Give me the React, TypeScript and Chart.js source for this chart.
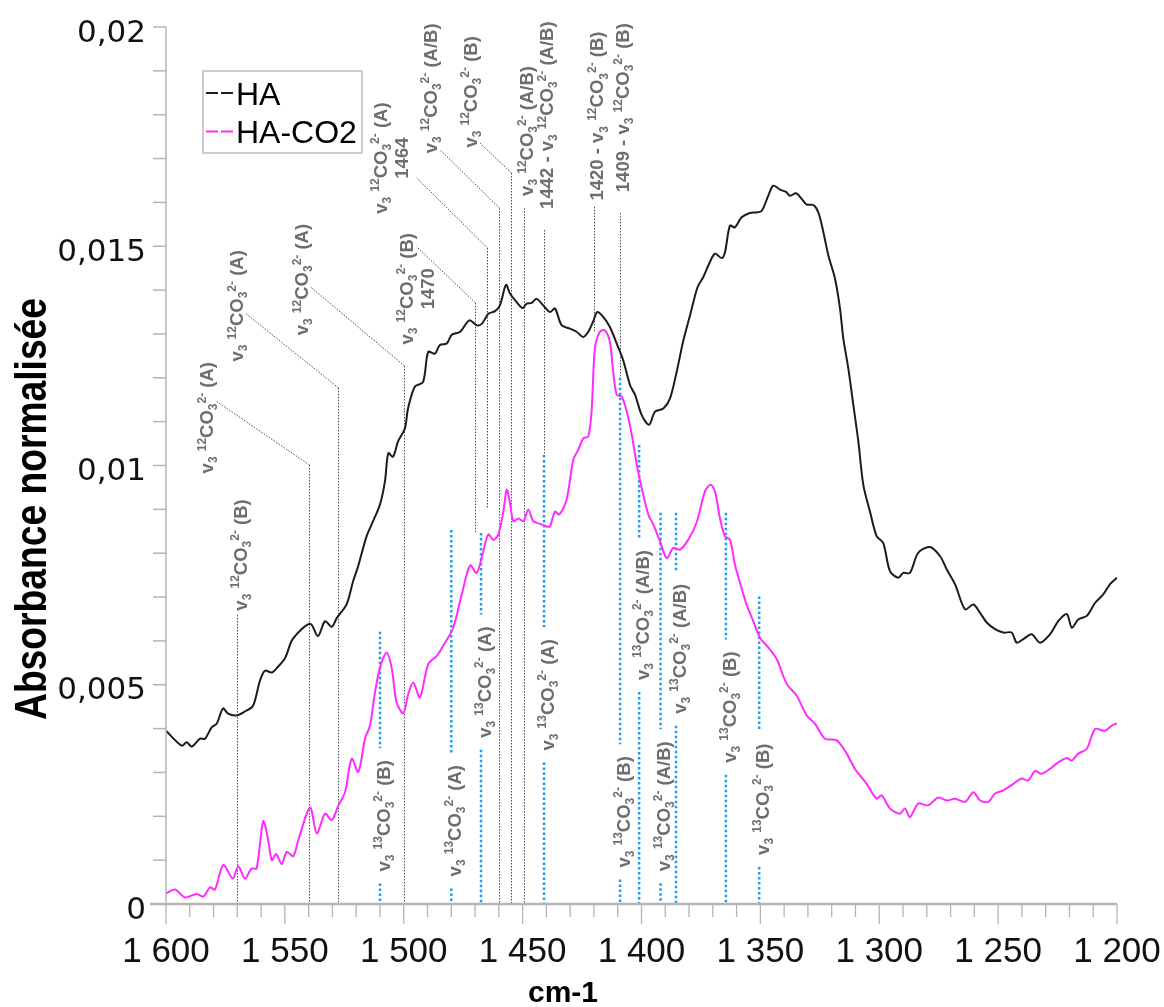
import { useEffect, useRef } from 'react';
import { Chart, registerables } from 'chart.js';

Chart.register(...registerables);

// ---------- DATA ----------
const seriesNames = ['HA', 'HA-CO2'];

const haWn = [1600, 1593.4, 1591.3, 1589.2, 1585.7, 1583.6, 1580.8, 1578.7, 1576.0, 1573.9, 1570.3, 1566.8, 1563.4, 1560.5, 1558.4, 1555.5, 1552.9, 1549.9, 1546.6, 1539.4, 1536.1, 1533.1, 1530.3, 1528.2, 1524.0, 1521.3, 1519.2, 1515.6, 1512.9, 1510.0, 1507.9, 1506.5, 1504.5, 1502.4, 1499.5, 1498.2, 1495.3, 1491.9, 1489.7, 1486.9, 1484.8, 1481.9, 1479.8, 1476.3, 1472.4, 1469.3, 1467.2, 1464.4, 1461.6, 1459.5, 1457.0, 1455.3, 1453.2, 1450.0, 1448.3, 1446.2, 1444.1, 1441.3, 1438.5, 1436.4, 1433.6, 1430.1, 1427.3, 1424.5, 1422.4, 1420.3, 1418.6, 1416.1, 1413.3, 1410.4, 1407.7, 1404.8, 1402.7, 1399.9, 1396.8, 1394.3, 1390.8, 1388.0, 1385.2, 1382.4, 1379.6, 1376.4, 1374.0, 1371.9, 1369.1, 1366.3, 1364.9, 1362.8, 1360.7, 1357.9, 1354.4, 1351.6, 1349.4, 1346.7, 1344.6, 1341.7, 1339.2, 1337.5, 1335.0, 1332.6, 1330.5, 1327.7, 1325.6, 1323.5, 1321.4, 1318.6, 1316.5, 1315.1, 1313.0, 1310.9, 1308.8, 1306.7, 1303.9, 1301.1, 1298.3, 1295.5, 1292.0, 1289.9, 1287.1, 1283.6, 1278.7, 1274.4, 1271.6, 1268.1, 1263.9, 1260.4, 1257.6, 1254.8, 1251.3, 1247.8, 1244.3, 1242.2, 1239.4, 1235.9, 1232.4, 1228.2, 1224.7, 1221.1, 1219.0, 1216.3, 1212.7, 1209.2, 1205.8, 1203.0, 1200.0];
const haAbs = [0.00395, 0.00361, 0.00369, 0.00359, 0.00377, 0.00377, 0.00403, 0.00411, 0.00446, 0.00434, 0.0043, 0.00439, 0.00452, 0.00509, 0.00532, 0.00528, 0.00541, 0.00561, 0.00605, 0.00639, 0.00611, 0.00645, 0.00632, 0.00652, 0.00684, 0.00736, 0.0077, 0.00839, 0.00873, 0.00911, 0.00964, 0.01028, 0.0102, 0.01055, 0.01085, 0.0113, 0.0118, 0.0119, 0.01259, 0.01255, 0.01275, 0.01278, 0.01298, 0.01305, 0.01331, 0.0132, 0.01323, 0.01346, 0.01352, 0.01366, 0.01412, 0.01392, 0.01377, 0.01359, 0.01369, 0.01371, 0.0138, 0.01365, 0.0135, 0.01358, 0.0132, 0.01312, 0.01305, 0.01293, 0.01305, 0.01329, 0.0135, 0.01339, 0.01316, 0.01278, 0.0124, 0.01183, 0.01161, 0.01115, 0.01093, 0.01123, 0.0113, 0.01153, 0.01214, 0.01285, 0.01342, 0.01407, 0.0143, 0.01456, 0.01483, 0.01473, 0.01486, 0.01547, 0.01543, 0.01566, 0.01576, 0.01577, 0.01581, 0.01615, 0.01638, 0.01629, 0.01624, 0.01615, 0.01621, 0.01608, 0.01595, 0.01594, 0.01577, 0.01532, 0.01479, 0.01426, 0.01358, 0.01289, 0.01221, 0.01138, 0.01055, 0.00956, 0.00895, 0.00839, 0.00823, 0.00759, 0.00744, 0.00755, 0.00755, 0.00801, 0.00814, 0.00793, 0.00763, 0.00729, 0.00672, 0.00683, 0.00664, 0.00642, 0.00627, 0.00619, 0.00619, 0.00596, 0.00604, 0.00615, 0.00596, 0.00615, 0.00645, 0.00661, 0.0063, 0.00649, 0.00657, 0.00687, 0.00706, 0.00729, 0.00744];

const co2Wn = [1600, 1596.2, 1592.0, 1587.1, 1584.3, 1581.5, 1579.4, 1575.9, 1571.9, 1569.6, 1566.8, 1564.0, 1561.9, 1559.1, 1557.0, 1555.5, 1553.7, 1551.3, 1549.2, 1546.5, 1544.4, 1539.4, 1536.6, 1533.1, 1530.3, 1527.5, 1524.7, 1521.9, 1519.1, 1516.3, 1514.2, 1512.2, 1510.0, 1507.2, 1505.1, 1503.0, 1500.2, 1498.1, 1496.0, 1493.2, 1489.7, 1486.1, 1483.4, 1479.2, 1475.6, 1472.1, 1469.3, 1466.5, 1464.4, 1462.3, 1460.2, 1458.1, 1456.7, 1455.3, 1453.9, 1451.8, 1449.7, 1447.6, 1445.5, 1442.7, 1439.9, 1438.5, 1436.4, 1434.6, 1431.5, 1428.7, 1426.6, 1424.5, 1422.4, 1421.0, 1419.6, 1417.5, 1415.4, 1413.3, 1411.9, 1410.4, 1408.3, 1406.2, 1404.1, 1402.0, 1399.9, 1397.1, 1395.0, 1392.2, 1389.4, 1386.6, 1383.8, 1380.3, 1376.8, 1373.3, 1370.9, 1369.1, 1367.0, 1364.9, 1362.8, 1360.7, 1358.6, 1355.8, 1353.0, 1350.2, 1346.7, 1343.1, 1338.9, 1334.7, 1330.5, 1327.0, 1322.8, 1317.9, 1313.7, 1310.2, 1305.3, 1301.1, 1299.0, 1295.5, 1291.3, 1289.2, 1287.1, 1283.6, 1279.4, 1275.2, 1271.6, 1268.1, 1263.9, 1260.4, 1257.6, 1254.1, 1251.3, 1247.8, 1243.6, 1240.1, 1237.3, 1234.5, 1231.7, 1228.2, 1224.7, 1221.1, 1219.0, 1216.3, 1212.7, 1209.2, 1205.1, 1202.2, 1200.0];
const co2Abs = [0.00024, 0.00033, 0.00015, 0.00023, 0.00017, 0.00038, 0.00033, 0.00089, 0.00058, 0.00086, 0.00058, 0.00081, 0.00081, 0.00189, 0.00145, 0.001, 0.00114, 0.00091, 0.00119, 0.00109, 0.00145, 0.0022, 0.00161, 0.00206, 0.00191, 0.00225, 0.00255, 0.00331, 0.00301, 0.00377, 0.00407, 0.00479, 0.00539, 0.00573, 0.00539, 0.0046, 0.00435, 0.00479, 0.00505, 0.00471, 0.00547, 0.00566, 0.00589, 0.0063, 0.00706, 0.00772, 0.00755, 0.00805, 0.00843, 0.0083, 0.00843, 0.00895, 0.00945, 0.00914, 0.00873, 0.00879, 0.00873, 0.00899, 0.00873, 0.00867, 0.00861, 0.00861, 0.00895, 0.00888, 0.00922, 0.01013, 0.01036, 0.01062, 0.01066, 0.01123, 0.01267, 0.01305, 0.01308, 0.01282, 0.01214, 0.01161, 0.01157, 0.01123, 0.0107, 0.01002, 0.00948, 0.00888, 0.00865, 0.00827, 0.00789, 0.00812, 0.00808, 0.00831, 0.0087, 0.00941, 0.00956, 0.00941, 0.0088, 0.00839, 0.00831, 0.00774, 0.00733, 0.00683, 0.00645, 0.00608, 0.00585, 0.00558, 0.00502, 0.00475, 0.0043, 0.00411, 0.00377, 0.00373, 0.00343, 0.00308, 0.00274, 0.0024, 0.00248, 0.00218, 0.00206, 0.00218, 0.00198, 0.00229, 0.00225, 0.00243, 0.00236, 0.0024, 0.00233, 0.00255, 0.00236, 0.00233, 0.00252, 0.00259, 0.00274, 0.00286, 0.00282, 0.00303, 0.00297, 0.00308, 0.00323, 0.00333, 0.00327, 0.00343, 0.00354, 0.00399, 0.00395, 0.00407, 0.00412];

const xTickValues = [1600, 1550, 1500, 1450, 1400, 1350, 1300, 1250, 1200];
const xTickLabels = ['1 600', '1 550', '1 500', '1 450', '1 400', '1 350', '1 300', '1 250', '1 200'];
const yTickValues = [0, 0.005, 0.01, 0.015, 0.02];
const yTickLabels = ['0', '0,005', '0,01', '0,015', '0,02'];
const xTitle = 'cm-1';
const yTitle = 'Absorbance normalisée';

// 12CO3 assignments (black dotted): wavenumber, top/bottom absorbance, leader end, label centre
const assign12Wn = [1570, 1540, 1527.5, 1500, 1470, 1465, 1460, 1455, 1449.5, 1441, 1420, 1409];
const assign12Top = [0.00659, 0.01001, 0.01177, 0.01227, 0.01371, 0.01496, 0.01587, 0.01667, 0.01587, 0.01537, 0.0159, 0.01576];
const assign12Bottom = [0, 0, 0, 0, 0.00846, 0.00903, 0, 0, 0, 0.01024, 0.01304, 0.01202];
const assign12Leader = [null, [1578.7, 0.01146], [1566.8, 0.01348], [1539.4, 0.01408], [1494.6, 0.01499], [1494.6, 0.01656], [1484.8, 0.0172], [1467.9, 0.01735], null, null, null, null];
const assign12LabelWn = [1568.9, 1582.9, 1570.3, 1542.9, 1494.6, 1505.4, 1489.0, 1472.1, 1448.3, 1439.9, 1418.8, 1407.9];
const assign12LabelAbs = [0.00796, 0.01109, 0.01364, 0.01424, 0.01403, 0.01701, 0.0186, 0.01852, 0.01763, 0.01799, 0.01797, 0.01816];
const assign12Text = [
  ['v_{3} ^{12}CO_{3}^{2-} (B)'],
  ['v_{3} ^{12}CO_{3}^{2-} (A)'],
  ['v_{3} ^{12}CO_{3}^{2-} (A)'],
  ['v_{3} ^{12}CO_{3}^{2-} (A)'],
  ['v_{3} ^{12}CO_{3}^{2-} (B)', '1470'],
  ['v_{3} ^{12}CO_{3}^{2-} (A)', '1464'],
  ['v_{3} ^{12}CO_{3}^{2-} (A/B)'],
  ['v_{3} ^{12}CO_{3}^{2-} (B)'],
  ['v_{3} ^{12}CO_{3}^{2-} (A/B)'],
  ['1442 - v_{3} ^{12}CO_{3}^{2-} (A/B)'],
  ['1420 - v_{3} ^{12}CO_{3}^{2-} (B)'],
  ['1409 - v_{3} ^{12}CO_{3}^{2-} (B)'],
];

// 13CO3 assignments (blue dotted)
const assign13Wn = [1510, 1480, 1467.5, 1441, 1409, 1401, 1392, 1385.5, 1364.5, 1350.5];
const assign13Top = [0.00621, 0.00853, 0.00846, 0.01024, 0.012, 0.01047, 0.00892, 0.00892, 0.00892, 0.00701];
const assign13LabelAbs = [0.00201, 0.0019, 0.00506, 0.00477, 0.0021, 0.00659, 0.00223, 0.00582, 0.00449, 0.00239];
const assign13Site = ['(B)', '(A)', '(A)', '(A)', '(B)', '(A/B)', '(A/B)', '(A/B)', '(B)', '(B)'];

// ---------- helpers ----------
type Seg = { t: string; k: 'n' | 'sub' | 'sup' };
function parseRich(s: string): Seg[] {
  const re = /_\{([^}]*)\}|\^\{([^}]*)\}|([^_^]+)/g;
  const out: Seg[] = [];
  let m: RegExpExecArray | null;
  while ((m = re.exec(s))) {
    if (m[1] !== undefined) out.push({ t: m[1], k: 'sub' });
    else if (m[2] !== undefined) out.push({ t: m[2], k: 'sup' });
    else out.push({ t: m[3], k: 'n' });
  }
  return out;
}
const LABEL_SIZE = 18.5;
const LABEL_FONT = (s: number) => `bold ${s}px "Liberation Sans", Arial, sans-serif`;
function segSize(k: string) { return k === 'n' ? LABEL_SIZE : LABEL_SIZE * 0.65; }
function richWidth(ctx: CanvasRenderingContext2D, s: string) {
  let w = 0;
  for (const seg of parseRich(s)) {
    ctx.font = LABEL_FONT(segSize(seg.k));
    w += ctx.measureText(seg.t).width;
  }
  return w;
}
// draws rotated (bottom-to-top) rich text block centred at (cx, cy)
function drawRichBlock(ctx: CanvasRenderingContext2D, lines: string[], cx: number, cy: number, color: string) {
  ctx.save();
  ctx.translate(cx, cy);
  ctx.rotate(-Math.PI / 2);
  ctx.fillStyle = color;
  ctx.textAlign = 'left';
  ctx.textBaseline = 'alphabetic';
  const lh = LABEL_SIZE * 1.15;
  lines.forEach((line, i) => {
    const yc = (i - (lines.length - 1) / 2) * lh;
    const base = yc + LABEL_SIZE * 0.36;
    let xx = -richWidth(ctx, line) / 2;
    for (const seg of parseRich(line)) {
      ctx.font = LABEL_FONT(segSize(seg.k));
      const shift = seg.k === 'sub' ? LABEL_SIZE * 0.22 : seg.k === 'sup' ? -LABEL_SIZE * 0.42 : 0;
      ctx.fillText(seg.t, xx, base + shift);
      xx += ctx.measureText(seg.t).width;
    }
  });
  ctx.restore();
}

const overlayPlugin = {
  id: 'overlay',
  beforeDatasetsDraw(chart: any) {
    const { ctx, scales } = chart;
    const x = scales.x, y = scales.y;
    const labelColor = '#6e6e6e';
    ctx.save();
    // black dotted 12CO3 lines
    ctx.strokeStyle = '#4a4a4a';
    ctx.lineWidth = 1;
    ctx.setLineDash([1.5, 1.5]);
    assign12Wn.forEach((wn, i) => {
      const px = Math.round(x.getPixelForValue(wn)) + 0.5;
      ctx.beginPath();
      ctx.moveTo(px, y.getPixelForValue(assign12Top[i]));
      ctx.lineTo(px, y.getPixelForValue(assign12Bottom[i]));
      ctx.stroke();
      const ld = assign12Leader[i];
      if (ld) {
        ctx.beginPath();
        ctx.moveTo(px, y.getPixelForValue(assign12Top[i]));
        ctx.lineTo(x.getPixelForValue(ld[0]), y.getPixelForValue(ld[1]));
        ctx.stroke();
      }
    });
    ctx.setLineDash([]);
    assign12Wn.forEach((_wn, i) => {
      drawRichBlock(ctx, assign12Text[i], x.getPixelForValue(assign12LabelWn[i]), y.getPixelForValue(assign12LabelAbs[i]), labelColor);
    });
    // blue dotted 13CO3 lines
    const gap = 12;
    assign13Wn.forEach((wn, i) => {
      const text = 'v_{3} ^{13}CO_{3}^{2-} ' + assign13Site[i];
      const px = x.getPixelForValue(wn);
      const cy = y.getPixelForValue(assign13LabelAbs[i]);
      const half = richWidth(ctx, text) / 2;
      ctx.strokeStyle = '#1e9cf0';
      ctx.lineWidth = 2.5;
      ctx.setLineDash([2.5, 2.5]);
      ctx.beginPath();
      ctx.moveTo(px, y.getPixelForValue(assign13Top[i]));
      ctx.lineTo(px, cy - half - gap);
      ctx.moveTo(px, cy + half + gap);
      ctx.lineTo(px, y.getPixelForValue(0));
      ctx.stroke();
      ctx.setLineDash([]);
      drawRichBlock(ctx, [text], px + 3, cy, labelColor);
    });
    ctx.restore();
  },
  afterDraw(chart: any) {
    const { ctx, scales, chartArea } = chart;
    const x = scales.x, y = scales.y;
    const { left, right, top, bottom } = chartArea;
    ctx.save();
    ctx.setLineDash([]);
    // y axis
    ctx.strokeStyle = '#b5b5b5';
    ctx.lineWidth = 1.5;
    ctx.beginPath();
    ctx.moveTo(left, top);
    ctx.lineTo(left, bottom);
    ctx.stroke();
    for (let i = 0; i <= 20; i++) {
      const py = y.getPixelForValue(i * 0.001);
      ctx.beginPath();
      ctx.moveTo(left - 13, py);
      ctx.lineTo(left, py);
      ctx.stroke();
    }
    // x axis
    ctx.lineWidth = 2.5;
    ctx.beginPath();
    ctx.moveTo(left - 16, bottom);
    ctx.lineTo(right, bottom);
    ctx.stroke();
    ctx.lineWidth = 1.3;
    for (let wn = 1200; wn <= 1600; wn += 10) {
      const px = x.getPixelForValue(wn);
      const len = wn % 50 === 0 ? 20 : 13;
      ctx.beginPath();
      ctx.moveTo(px, bottom);
      ctx.lineTo(px, bottom + len);
      ctx.stroke();
    }
    // tick labels
    ctx.fillStyle = '#111';
    ctx.textBaseline = 'alphabetic';
    ctx.textAlign = 'center';
    ctx.font = '35px "Liberation Sans", Arial, sans-serif';
    xTickValues.forEach((v, i) => {
      ctx.fillText(xTickLabels[i], x.getPixelForValue(v), bottom + 58);
    });
    ctx.textAlign = 'right';
    ctx.font = '31px "DejaVu Sans", sans-serif';
    yTickValues.forEach((v, i) => {
      ctx.fillText(yTickLabels[i], left - 20, y.getPixelForValue(v) + 14.5);
    });
    // axis titles
    ctx.fillStyle = '#000';
    ctx.textAlign = 'center';
    ctx.font = 'bold 30px "Liberation Sans", Arial, sans-serif';
    ctx.fillText(xTitle, 563, 1002);
    ctx.save();
    ctx.translate(30, 509);
    ctx.rotate(-Math.PI / 2);
    ctx.font = 'bold 44px "Liberation Sans", Arial, sans-serif';
    const tw = ctx.measureText(yTitle).width;
    ctx.scale(422 / tw, 1);
    ctx.fillText(yTitle, 0, 16);
    ctx.restore();
    // legend
    ctx.strokeStyle = '#bdbdbd';
    ctx.lineWidth = 1.5;
    ctx.strokeRect(203, 71, 159, 82);
    const colors = ['#1c1c1c', '#ff2bff'];
    const rows = [93, 131.5];
    const bases = [104.5, 143];
    ctx.font = '32px "Liberation Sans", Arial, sans-serif';
    ctx.textAlign = 'left';
    seriesNames.forEach((name, i) => {
      ctx.strokeStyle = colors[i];
      ctx.lineWidth = 2;
      ctx.setLineDash([12, 3]);
      ctx.beginPath();
      ctx.moveTo(206, rows[i]);
      ctx.lineTo(233, rows[i]);
      ctx.stroke();
      ctx.setLineDash([]);
      ctx.fillStyle = '#000';
      ctx.fillText(name, 236, bases[i]);
    });
    ctx.restore();
  },
};

export default function App() {
  const ref = useRef<HTMLCanvasElement>(null);
  useEffect(() => {
    const canvas = ref.current;
    if (!canvas) return;
    const chart = new Chart(canvas, {
      type: 'line',
      data: {
        datasets: [
          {
            label: seriesNames[0],
            data: haWn.map((w, i) => ({ x: w, y: haAbs[i] })),
            borderColor: '#1c1c1c',
            borderWidth: 2,
            pointRadius: 0,
            tension: 0.3,
            fill: false,
          },
          {
            label: seriesNames[1],
            data: co2Wn.map((w, i) => ({ x: w, y: co2Abs[i] })),
            borderColor: '#ff2bff',
            borderWidth: 2,
            pointRadius: 0,
            tension: 0.3,
            fill: false,
          },
        ],
      },
      options: {
        animation: false,
        responsive: false,
        devicePixelRatio: 1,
        layout: { padding: { left: 166, right: 47, top: 27, bottom: 103 } },
        plugins: { legend: { display: false }, tooltip: { enabled: false } },
        scales: {
          x: { type: 'linear', min: 1200, max: 1600, reverse: true, display: false },
          y: { type: 'linear', min: 0, max: 0.02, display: false },
        },
      },
      plugins: [overlayPlugin],
    } as any);
    return () => chart.destroy();
  }, []);
  return (
    <div style={{ position: 'absolute', left: 0, top: 0, width: 1164, height: 1007, background: '#fff' }}>
      <canvas ref={ref} width={1164} height={1007} style={{ display: 'block', width: 1164, height: 1007 }} />
    </div>
  );
}
